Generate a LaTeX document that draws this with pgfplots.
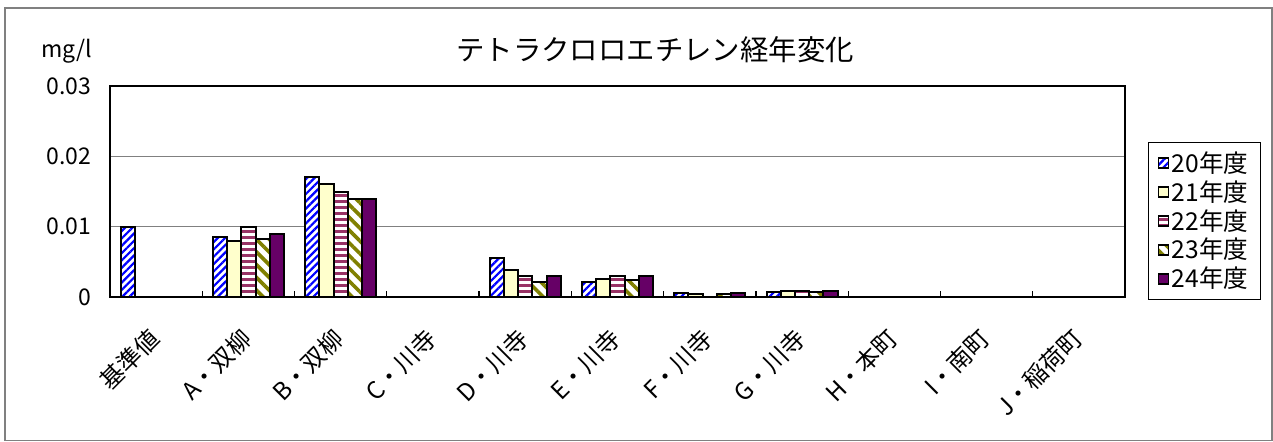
\documentclass[border=0pt]{standalone}
\usepackage{fontspec}
\setmainfont{Noto Sans CJK JP}
\usepackage{pgfplots}
\pgfplotsset{compat=1.18}
\usetikzlibrary{patterns.meta}
\definecolor{c21}{HTML}{FFFFCC}
\definecolor{c22}{HTML}{993366}
\definecolor{c23}{HTML}{808000}
\definecolor{c24}{HTML}{660066}
\definecolor{gridg}{HTML}{808080}
\begin{document}
\begin{tikzpicture}
\useasboundingbox (0,0) rectangle (636.5pt,220.5pt);
\draw[gridg, line width=0.6pt] (2.5pt,0.3pt) rectangle (636pt,216.5pt);
\begin{axis}[
  at={(55pt,72pt)}, anchor=south west,
  scale only axis, width=507.5pt, height=105.5pt,
  xmin=-0.5, xmax=10.5, ymin=0, ymax=0.03,
  ybar=0pt, bar width=7.1pt,
  scaled y ticks=false,
  xtick={0,...,10},
  xticklabels={基準値,A・双柳,B・双柳,C・川寺,D・川寺,E・川寺,F・川寺,G・川寺,H・本町,I・南町,J・稲荷町},
  minor xtick={0.5,1.5,...,9.5},
  ytick={0,0.01,0.02,0.03},
  yticklabels={0,0.01,0.02,0.03},
  /pgf/number format/assume math mode=true,
  major tick length=0pt, minor tick length=3pt, tick align=inside,
  tick pos=left,
  minor tick style={black, line width=0.6pt},
  ymajorgrids, grid style={gridg, line width=0.6pt},
  axis line style={black, line width=1pt},
  x tick label style={xshift=-0.5pt, yshift=-18.5pt, rotate=45, anchor=east, inner sep=0pt, font=\fontsize{12}{13}\selectfont},
  y tick label style={font=\fontsize{11.5}{13}\selectfont, xshift=-6pt},
  legend style={at={(1.0227,0.7346)}, anchor=north west, draw=black, line width=0.5pt,
    font=\fontsize{12.3}{12}\selectfont, row sep=1.8pt, inner xsep=4.5pt, inner ysep=4pt,
    nodes={inner ysep=0.4pt, inner xsep=1.5pt}},
  legend cell align=left,
  legend image code/.code={\draw[#1, line width=0.7pt] (0pt,-2.5pt) rectangle (5pt,2.5pt);},
  every axis plot/.append style={draw=black, line width=1pt},
]
\addplot[fill=white, postaction={pattern={Lines[angle=45,distance=2.6pt,line width=1.1pt]}, pattern color=blue}]
  coordinates {(0,0.01)(1,0.0085)(2,0.017)(4,0.0056)(5,0.0021)(6,0.0006)(7,0.0007)};
\addplot[fill=c21]
  coordinates {(1,0.0079)(2,0.016)(4,0.0039)(5,0.0025)(6,0.0004)(7,0.0009)};
\addplot[fill=white, postaction={pattern={Lines[angle=0,distance=3pt,line width=1.5pt]}, pattern color=c22}]
  coordinates {(1,0.01)(2,0.015)(4,0.003)(5,0.003)(7,0.0008)};
\addplot[fill=white, postaction={pattern={Lines[angle=-45,distance=4.5pt,line width=1.8pt]}, pattern color=c23}]
  coordinates {(1,0.0083)(2,0.014)(4,0.0022)(5,0.0024)(6,0.0004)(7,0.0007)};
\addplot[fill=c24]
  coordinates {(1,0.009)(2,0.014)(4,0.003)(5,0.003)(6,0.0006)(7,0.0008)};
\legend{20年度,21年度,22年度,23年度,24年度}
\end{axis}
\node[font=\fontsize{14.2}{17}\selectfont] at (327.5pt,195.5pt) {テトラクロロエチレン経年変化};
\node[font=\fontsize{11.5}{13}\selectfont] at (33.5pt,195pt) {mg/l};
\end{tikzpicture}
\end{document}
